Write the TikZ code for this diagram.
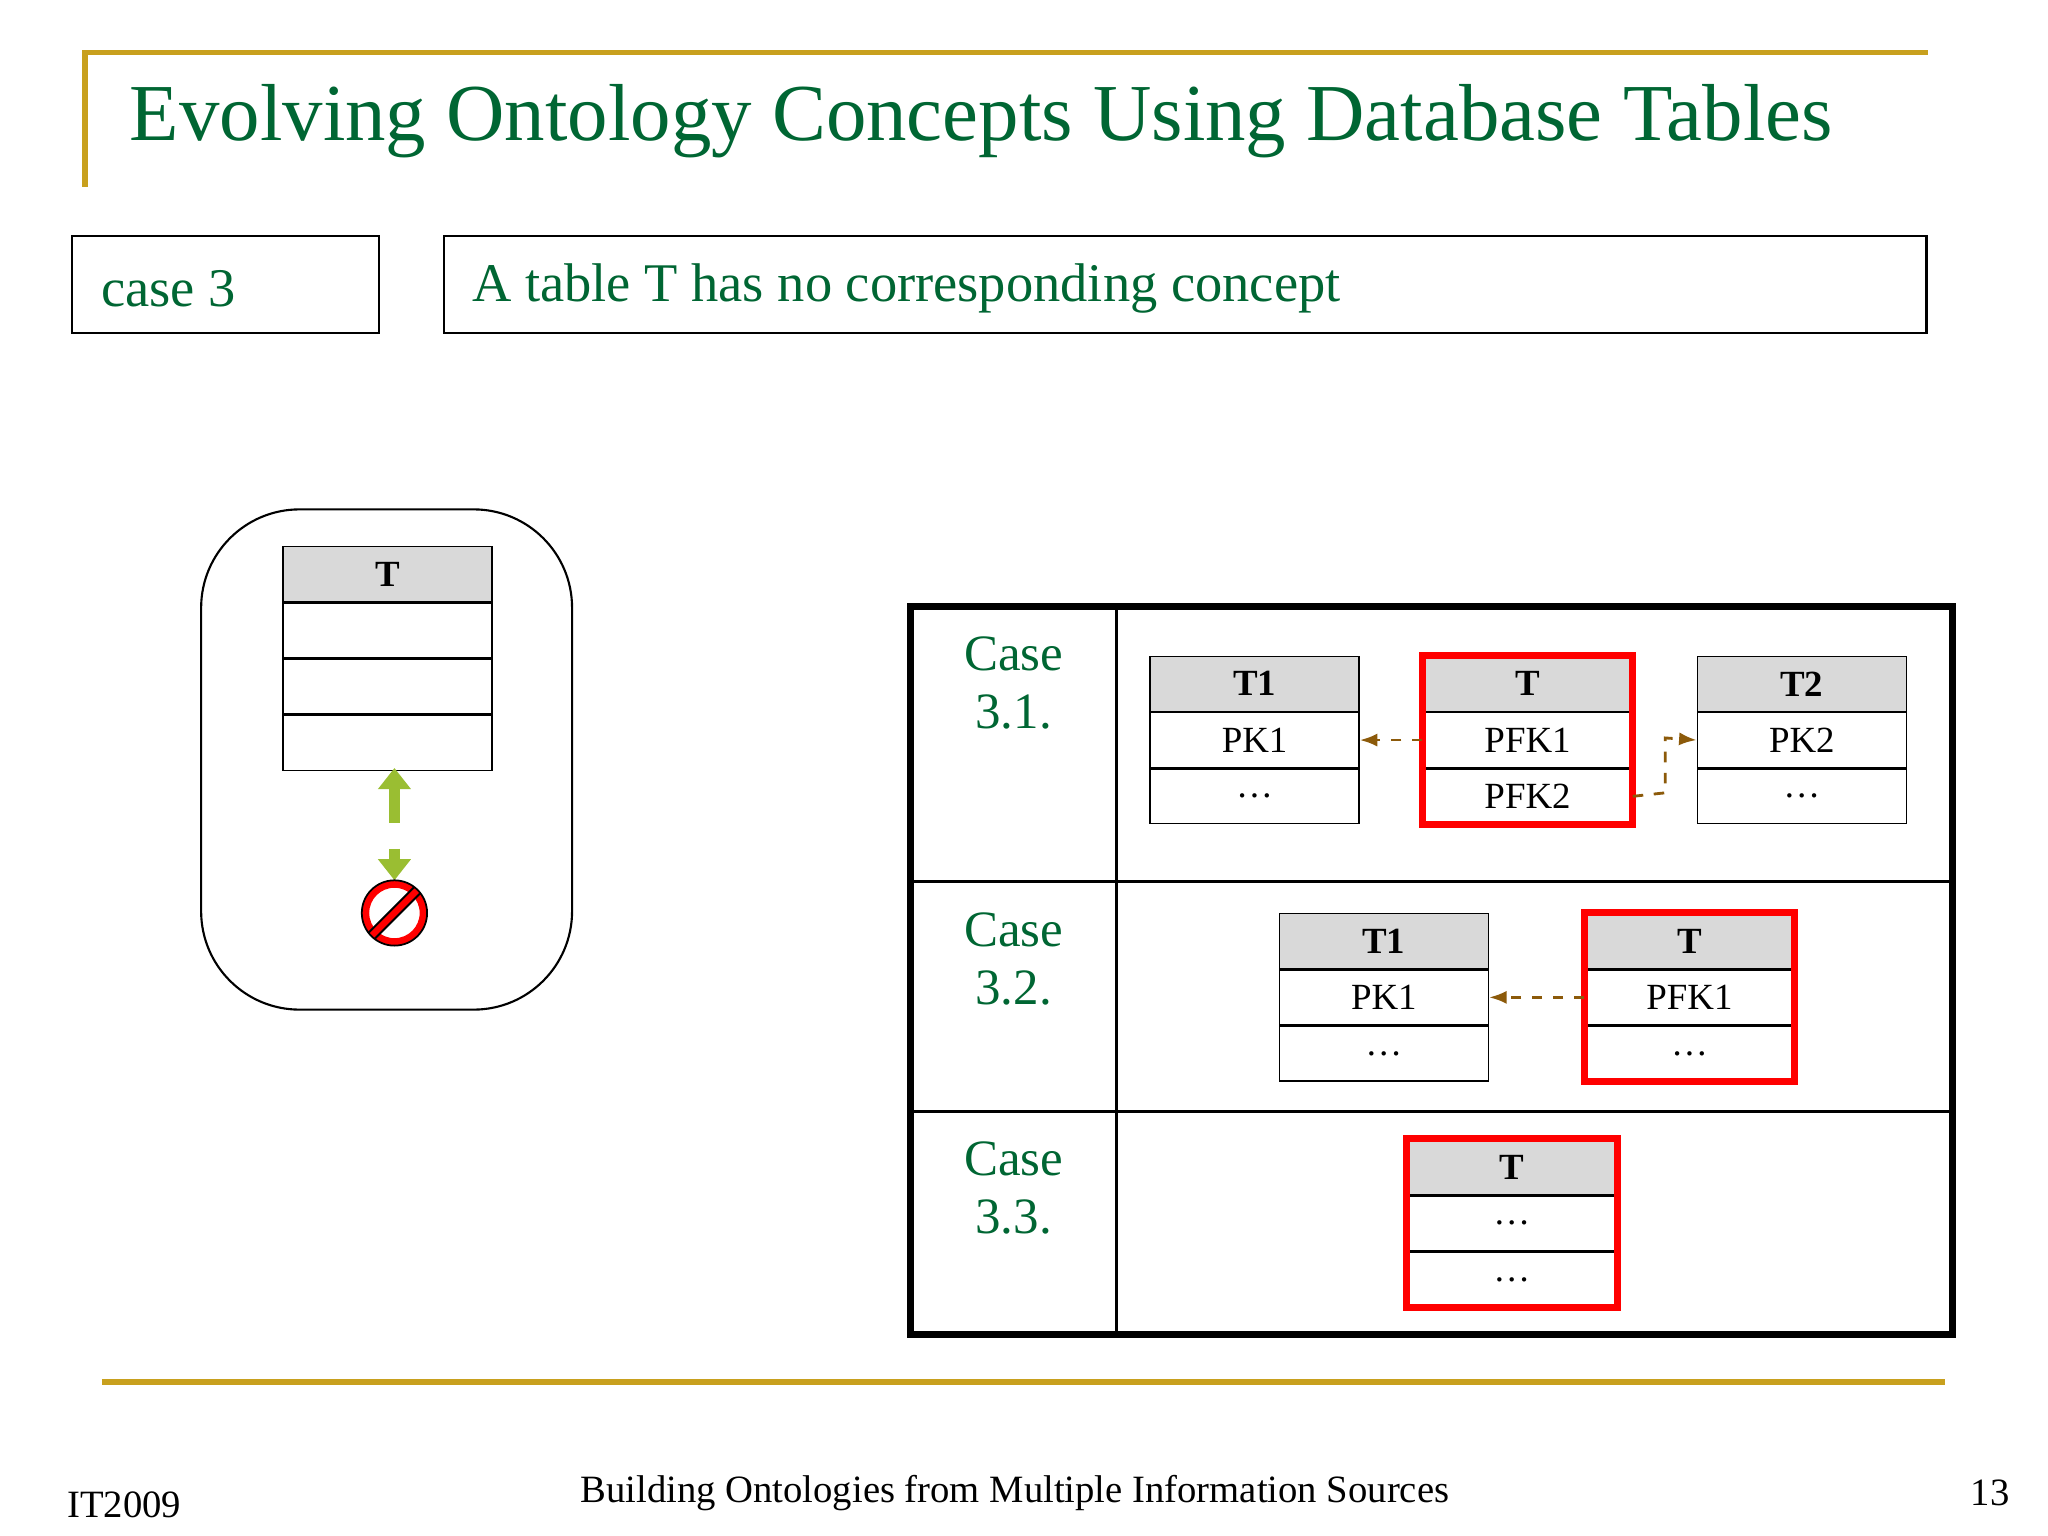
\documentclass[tikz,border=0pt]{standalone}
\usepackage{fontspec}
\setmainfont{Liberation Serif}
\usetikzlibrary{arrows.meta}
\definecolor{tgreen}{RGB}{0,102,51}
\definecolor{gold}{RGB}{200,160,30}
\definecolor{hdr}{RGB}{217,217,217}
\definecolor{brn}{RGB}{140,90,10}
\definecolor{lgreen}{RGB}{154,190,50}
\tikzset{
 cell/.style={draw,line width=0.4pt,minimum width=160*0.013061cm,minimum height=42*0.013061cm,inner sep=0,font=\fontsize{10.5}{10.5}\selectfont},
 hcell/.style={cell,fill=hdr,font=\fontsize{10.5}{10.5}\selectfont\bfseries},
 red/.style={draw=red,line width=2pt},
 fk/.style={brn,dashed,line width=0.8pt,-{Latex[length=5pt]}},
 case/.style={tgreen,font=\fontsize{14.5}{16.5}\selectfont,align=center,anchor=north}
}
\newcommand{\tabl}[6]{% name, x, y(top), header, row1, row2
 \node[hcell,anchor=north west] (#1h) at (#2,#3) {#4};
 \node[cell,anchor=north] (#1a) at (#1h.south) {#5};
 \node[cell,anchor=north] (#1b) at (#1a.south) {#6};}
\begin{document}
\begin{tikzpicture}[x=0.013061cm,y=-0.013061cm]
\useasboundingbox (0,0) rectangle (1568,1176);
\fill[white] (0,0) rectangle (1568,1176);
% title
\draw[gold,line width=1.5pt] (65,143) -- (65,40) -- (1476,40);
\node[anchor=west,tgreen,font=\fontsize{23}{28}\selectfont] (title) at (90,93) {Evolving Ontology Concepts Using Database Tables};
\draw[line width=0.6pt] (55,181) rectangle (290,255);
\node[anchor=west,tgreen,font=\fontsize{15.5}{18}\selectfont] (c3) at (68,221) {case 3};
\draw[line width=0.6pt] (340,181) rectangle (1475,255);
\node[anchor=west,tgreen,font=\fontsize{15.5}{18}\selectfont] (desc) at (352,221) {A table T has no corresponding concept};
% left rounded box
\draw[line width=0.6pt,rounded corners=28] (154,390) rectangle (438,773);
\node[hcell,anchor=north west] (lh) at (216,418) {T};
\node[cell,anchor=north] (l1) at (lh.south) {};
\node[cell,anchor=north] (l2) at (l1.south) {};
\node[cell,anchor=north] (l3) at (l2.south) {};
\coordinate (ua) at (302,630); \coordinate (ub) at (302,588);
\coordinate (da) at (302,650); \coordinate (db) at (302,674);
\draw[lgreen,line width=3pt,-{Triangle[length=6pt,width=9pt]}] (ua) -- (ub);
\draw[lgreen,line width=3pt,-{Triangle[length=6pt,width=9pt]}] (da) -- (db);
\node[circle,draw=red,line width=2pt,fill=white,minimum size=44*0.013061cm] (no) at (302,699) {};
\draw[black,line width=3pt] (no.45) -- (no.225);
\draw[red,line width=1.8pt] (no.45) -- (no.225);
\node[circle,draw=black,line width=0.5pt,minimum size=50*0.013061cm] at (302,699) {};
% big table
\draw[line width=2pt] (697,464) rectangle (1495,1022);
\draw[line width=0.8pt] (855,464) -- (855,1022);
\draw[line width=0.8pt] (697,675) -- (1495,675);
\draw[line width=0.8pt] (697,851) -- (1495,851);
\node[case] (k1) at (776,478) {Case\\3.1.};
\node[case] (k2) at (776,689) {Case\\3.2.};
\node[case] (k3) at (776,865) {Case\\3.3.};
% case 3.1
\tabl{a}{880}{502}{T1}{PK1}{\dots}
\tabl{b}{1089}{502}{T}{PFK1}{PFK2}
\tabl{c}{1299}{502}{T2}{PK2}{\dots}
\draw[red] (bh.north west) rectangle (bb.south east);
\draw[fk] (bh.west |- ba.west) -- (aa.east);
\coordinate (k) at (1275,607);
\draw[fk] (bb.east) -- (k) -- (1275,565) -- (ca.west);
% case 3.2
\tabl{d}{979}{699}{T1}{PK1}{\dots}
\tabl{e}{1213}{699}{T}{PFK1}{\dots}
\draw[red] (eh.north west) rectangle (eb.south east);
\draw[fk] (ea.west) -- (da.east);
% case 3.3
\tabl{f}{1077}{872}{T}{\dots}{\dots}
\draw[red] (fh.north west) rectangle (fb.south east);
% footer
\draw[gold,line width=1.5pt] (78,1058) -- (1489,1058);
\node[anchor=west,font=\fontsize{11}{11}\selectfont] (f1) at (42,1152) {IT2009};
\node[font=\fontsize{11}{11}\selectfont] (f2) at (777,1143) {Building Ontologies from Multiple Information Sources};
\node[anchor=east,font=\fontsize{11}{11}\selectfont] (f3) at (1548,1143) {13};
\end{tikzpicture}
\end{document}
